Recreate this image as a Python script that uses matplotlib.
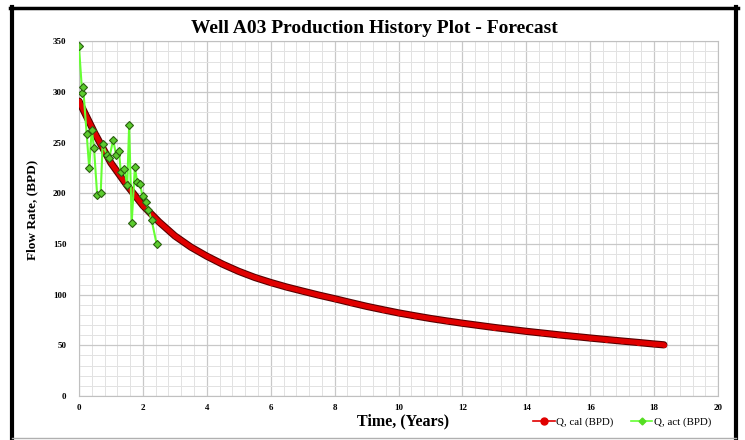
import matplotlib
matplotlib.use('Agg')
import matplotlib.pyplot as plt
from matplotlib.lines import Line2D
from matplotlib.ticker import MultipleLocator

# Calculated (forecast) rate
t_cal = [0, 0.5, 1, 1.5, 2, 2.5, 3, 3.5, 4, 4.5, 5, 5.5, 6, 6.5, 7, 7.5, 8, 8.5,
         9, 9.5, 10, 10.5, 11, 11.5, 12, 12.5, 13, 13.5, 14, 14.5, 15, 15.5,
         16, 16.5, 17, 17.5, 18, 18.3]
q_cal = [291, 259, 230, 208, 188, 172, 158, 147, 138, 130, 123, 117, 112, 107.5,
         103.5, 99.6, 96, 92.2, 88.5, 85.2, 82, 79.2, 76.5, 74.1, 71.8, 69.7,
         67.6, 65.7, 63.8, 62.1, 60.4, 58.8, 57.2, 55.7, 54.2, 52.8, 51.3, 50.5]

# Actual measured rate (green)
t_act = [0.0, 0.10, 0.13, 0.24, 0.32, 0.40, 0.47, 0.57, 0.68, 0.74, 0.87, 0.95,
         1.07, 1.16, 1.25, 1.31, 1.42, 1.51, 1.57, 1.65, 1.75, 1.82, 1.91, 1.99,
         2.10, 2.17, 2.27, 2.43]
q_act = [345, 299, 305, 259, 225, 263, 245, 198, 200, 249, 238, 235,
         253, 238, 242, 221, 224, 208, 267, 171, 226, 211, 209, 197,
         191, 184, 174, 150]

serif = 'Liberation Serif'

fig = plt.figure(figsize=(7.45, 4.4), dpi=100)
ax = fig.add_axes([0.106, 0.1, 0.858, 0.806])

# red calculated curve: thick band with a dark edge
ax.plot(t_cal, q_cal, color='#5a0000', lw=5.2, solid_capstyle='round',
        solid_joinstyle='round', zorder=3)
ax.plot(t_cal, q_cal, color='#e00000', lw=3.6, solid_capstyle='round',
        solid_joinstyle='round', marker='o', ms=3.6, mfc='#e00000', mec='none', zorder=3)

# green actual data
ax.plot(t_act, q_act, color='#66ff33', lw=1.5, marker='D', ms=4.2,
        mfc='#5ccc2e', mec='#2a5f10', mew=0.8, zorder=4)

ax.set_xlim(0, 20)
ax.set_ylim(0, 350)
ax.xaxis.set_major_locator(MultipleLocator(2))
ax.xaxis.set_minor_locator(MultipleLocator(0.4))
ax.yaxis.set_major_locator(MultipleLocator(50))
ax.yaxis.set_minor_locator(MultipleLocator(10))
ax.grid(which='major', color='#c8c8c8', lw=0.9)
ax.grid(which='minor', color='#e2e2e2', lw=0.7)
ax.set_axisbelow(True)
for s in ax.spines.values():
    s.set_color('#c0c0c0')
    s.set_linewidth(0.8)
ax.tick_params(which='both', length=0)
ax.tick_params(axis='x', pad=6)
ax.tick_params(axis='y', pad=9)
for lab in ax.get_xticklabels() + ax.get_yticklabels():
    lab.set_fontfamily(serif)
    lab.set_fontweight('bold')
    lab.set_fontsize(6.5)

fig.text(0.503, 0.935, 'Well A03 Production History Plot - Forecast',
         ha='center', va='center', fontfamily=serif, fontweight='bold', fontsize=14)
fig.text(0.541, 0.043, 'Time, (Years)', ha='center', va='center',
         fontfamily=serif, fontweight='bold', fontsize=11.5)
fig.text(0.043, 0.523, 'Flow Rate, (BPD)', ha='center', va='center', rotation=90,
         fontfamily=serif, fontweight='bold', fontsize=9.5)

handles = [Line2D([], [], color='#e00000', lw=1.2, marker='o', ms=5, mfc='#e00000', mec='#e00000'),
           Line2D([], [], color='#66ff33', lw=1.2, marker='D', ms=3.5, mfc='#55dd22', mec='#55dd22')]
fig.legend(handles, ['Q, cal (BPD)', 'Q, act (BPD)'], loc='center',
           bbox_to_anchor=(0.835, 0.041), ncol=2, frameon=False, handlelength=2.0,
           handletextpad=0.15, columnspacing=1.6, prop={'family': serif, 'size': 7.8})

# outer black frame (top, left, right) and grey bottom edge
W, H = 745.0, 440.0
fig.add_artist(Line2D([10 / W, 738 / W], [1 - 8.5 / H, 1 - 8.5 / H], color='black', lw=2.5))
fig.add_artist(Line2D([12 / W, 12 / W], [0, 1 - 7 / H], color='black', lw=3))
fig.add_artist(Line2D([736 / W, 736 / W], [0, 1 - 7 / H], color='black', lw=3))
fig.add_artist(Line2D([12 / W, 736 / W], [2.5 / H, 2.5 / H], color='#b0b0b0', lw=1))

fig.savefig('out.png', dpi=100)
